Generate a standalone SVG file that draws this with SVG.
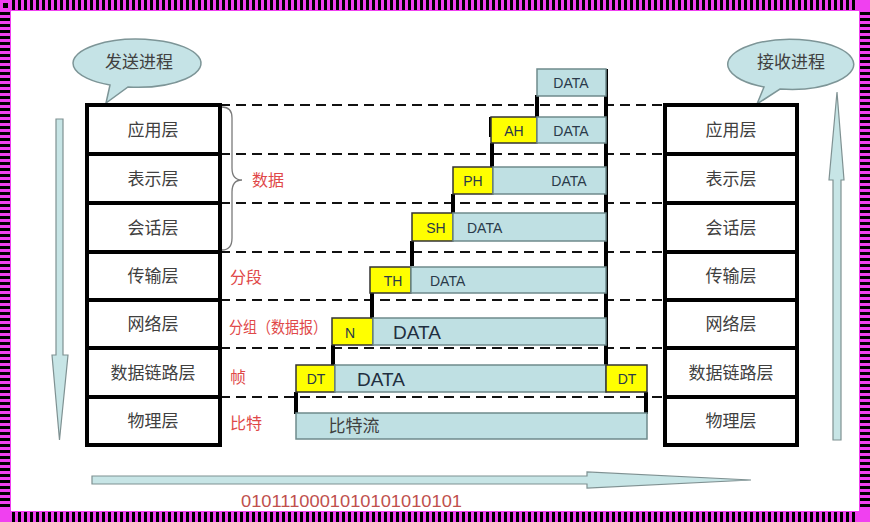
<svg xmlns="http://www.w3.org/2000/svg" width="870" height="522" viewBox="0 0 870 522">
<style>
.layer{fill:#fff;stroke:#000;stroke-width:4}
.lt{font-family:"Noto Sans CJK SC",sans-serif;font-size:17px;fill:#404040;text-anchor:middle}
.red{font-family:"Noto Sans CJK SC",sans-serif;font-size:16px;fill:#e04848}
.dash{stroke:#111;stroke-width:2;stroke-dasharray:10 6;fill:none}
.tick{stroke:#000;stroke-width:4}
.data{fill:#bfe0e3;stroke:#6f8a8c;stroke-width:1.5}
.hdr{fill:#ffff00;stroke:#333;stroke-width:1.5}
.dt{font-family:"Liberation Sans",Arial,sans-serif;font-size:14px;fill:#2a3a4a}
.dtl{font-family:"Liberation Sans",Arial,sans-serif;font-size:19px;fill:#1f2f40}
.bub{fill:#c5e3e6;stroke:#7d9597;stroke-width:1.5}
.arr{fill:#c7e5e6;stroke:#7f9192;stroke-width:1.2}
</style>
<defs>
<pattern id="vs" x="0" y="0" width="6" height="12" patternUnits="userSpaceOnUse"><rect width="6" height="12" fill="#f040f0"/><rect width="3" height="12" fill="#000"/></pattern>
<pattern id="hs" x="0" y="0" width="12" height="6" patternUnits="userSpaceOnUse"><rect width="12" height="6" fill="#f040f0"/><rect width="12" height="3" fill="#000"/></pattern>
</defs>
<g id="frame">
<rect x="0" y="0" width="870" height="522" fill="#f040f0"/>
<rect x="12" y="0" width="846" height="10" fill="url(#vs)"/>
<rect x="12" y="512" width="846" height="10" fill="url(#vs)"/>
<rect x="0" y="12" width="10" height="498" fill="url(#hs)"/>
<rect x="860" y="12" width="10" height="498" fill="url(#hs)"/>
<rect x="3" y="3" width="5" height="5" fill="#000"/>
<rect x="11" y="11" width="848" height="500" fill="#fff"/>
</g>
<g id="connectors">
<path class="dash" d="M220 105H665M220 154H665M220 203H665M220 252H665M220 300H665M220 348H665M220 397H665"/>
<path class="tick" d="M537 95V117M491 117V137M492 143V167M453 194V213M412 241V266M372 293V318M333 345V366M296 392V414M646 392V414M606 69V380"/>
<path class="arr" d="M56 119H63V355L68 355L59.5 440L52 355L56 355Z"/>
<path class="arr" d="M833 440V180L829 180L837 92L844 180L841 180V440Z"/>
<path class="arr" d="M92 476H587V472L751 480L587 488V484H92Z"/>
</g>
<g id="bubble-send">
<path class="bub" d="M110 85 L106 103 L128 87 A64 24 0 1 0 110 85Z"/>
<text x="139" y="68" class="lt">发送进程</text>
</g>
<g id="bubble-recv">
<path class="bub" d="M764 87 L757 104 L780 89 A63 25 0 1 0 764 87Z"/>
<text x="791" y="68" class="lt">接收进程</text>
</g>
<g id="send-stack">
<rect class="layer" x="87" y="105" width="133" height="49"/><text class="lt" x="153" y="136">应用层</text>
<rect class="layer" x="87" y="154" width="133" height="49"/><text class="lt" x="153" y="185">表示层</text>
<rect class="layer" x="87" y="203" width="133" height="49"/><text class="lt" x="153" y="234">会话层</text>
<rect class="layer" x="87" y="252" width="133" height="48"/><text class="lt" x="153" y="282">传输层</text>
<rect class="layer" x="87" y="300" width="133" height="48"/><text class="lt" x="153" y="330">网络层</text>
<rect class="layer" x="87" y="348" width="133" height="49"/><text class="lt" x="153" y="379">数据链路层</text>
<rect class="layer" x="87" y="397" width="133" height="48"/><text class="lt" x="153" y="427">物理层</text>
</g>
<g id="recv-stack">
<rect class="layer" x="665" y="105" width="132" height="49"/><text class="lt" x="731" y="136">应用层</text>
<rect class="layer" x="665" y="154" width="132" height="49"/><text class="lt" x="731" y="185">表示层</text>
<rect class="layer" x="665" y="203" width="132" height="49"/><text class="lt" x="731" y="234">会话层</text>
<rect class="layer" x="665" y="252" width="132" height="48"/><text class="lt" x="731" y="282">传输层</text>
<rect class="layer" x="665" y="300" width="132" height="48"/><text class="lt" x="731" y="330">网络层</text>
<rect class="layer" x="665" y="348" width="132" height="49"/><text class="lt" x="731" y="379">数据链路层</text>
<rect class="layer" x="665" y="397" width="132" height="48"/><text class="lt" x="731" y="427">物理层</text>
</g>
<g id="labels">
<path d="M222 107 Q232 107 232 118 V168 Q232 180 242 180 Q232 180 232 192 V238 Q232 250 222 250" fill="none" stroke="#7a7a7a" stroke-width="1.3"/>
<text class="red" x="252" y="186">数据</text>
<text class="red" x="230" y="283">分段</text>
<text class="red" x="229" y="333" textLength="98" lengthAdjust="spacingAndGlyphs">分组（数据报）</text>
<text class="red" x="230" y="383">帧</text>
<text class="red" x="230" y="429">比特</text>
</g>
<g id="pkt-app">
<rect class="data" x="537" y="69" width="69" height="27"/><text class="dt" x="571" y="88" text-anchor="middle">DATA</text>
</g>
<g id="pkt-ah">
<rect class="hdr" x="491" y="117" width="46" height="26"/><text class="dt" x="514" y="136" text-anchor="middle">AH</text>
<rect class="data" x="537" y="117" width="69" height="26"/><text class="dt" x="571" y="136" text-anchor="middle">DATA</text>
</g>
<g id="pkt-ph">
<rect class="hdr" x="453" y="167" width="40" height="27"/><text class="dt" x="473" y="186" text-anchor="middle">PH</text>
<rect class="data" x="493" y="167" width="113" height="27"/><text class="dt" x="569" y="186" text-anchor="middle">DATA</text>
</g>
<g id="pkt-sh">
<rect class="hdr" x="412" y="213" width="41" height="28"/><text class="dt" x="436" y="233" text-anchor="middle">SH</text>
<rect class="data" x="453" y="213" width="153" height="28"/><text class="dt" x="467" y="233">DATA</text>
</g>
<g id="pkt-th">
<rect class="hdr" x="370" y="267" width="41" height="26"/><text class="dt" x="393" y="286" text-anchor="middle">TH</text>
<rect class="data" x="411" y="267" width="195" height="26"/><text class="dt" x="430" y="286">DATA</text>
</g>
<g id="pkt-n">
<rect class="hdr" x="332" y="318" width="41" height="27"/><text class="dt" x="350" y="338" text-anchor="middle">N</text>
<rect class="data" x="373" y="318" width="233" height="27"/><text class="dtl" x="393" y="339">DATA</text>
</g>
<g id="pkt-dt">
<rect class="hdr" x="296" y="365" width="39" height="27"/><text class="dt" x="316" y="384" text-anchor="middle">DT</text>
<rect class="data" x="335" y="365" width="271" height="27"/><text class="dtl" x="357" y="386">DATA</text>
<rect class="hdr" x="606" y="365" width="41" height="27"/><text class="dt" x="627" y="384" text-anchor="middle">DT</text>
</g>
<g id="pkt-bits">
<rect class="data" x="296" y="413" width="351" height="26"/><text class="lt" x="354" y="432">比特流</text>
</g>
<g id="bitstring">
<text x="241" y="507" font-family="Liberation Sans,Arial,sans-serif" font-size="17" fill="#c0504d" textLength="221" lengthAdjust="spacingAndGlyphs">0101110001010101010101</text>
</g>
</svg>
